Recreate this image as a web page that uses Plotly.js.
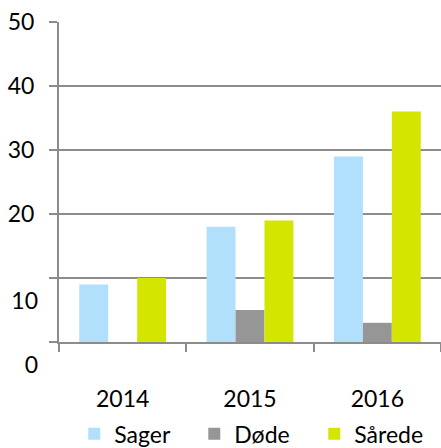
<!DOCTYPE html>
<html>
<head>
<meta charset="utf-8">
<script src="https://cdn.plot.ly/plotly-3.0.1.min.js"></script>
<style>html,body{margin:0;padding:0;background:#fff;}#chart{width:441px;height:448px;}</style>
</head>
<body>
<div id="chart"></div>
<script>
const years = ['2014', '2015', '2016'];
const sager = [9, 18, 29];
const doede = [null, 5, 3];
const saarede = [10, 19, 36];
const seriesNames = ['Sager', 'Døde', 'Sårede'];
const yTickVals = [0, 10, 20, 30, 40, 50];
const yTickTextUpper = ['', '', '20', '30', '40', '50'];
const yTickValsLower = [0, 10];
const yTickTextLower = ['0', '10'];

const colors = ['#B1E0FD', '#969696', '#D4E600'];
const gridColor = '#8C8C8C';
const font = {family: 'Lato, "Open Sans", sans-serif', size: 23, color: '#000'};

const traces = [sager, doede, saarede].map((vals, i) => ({
  type: 'bar', x: years, y: vals, name: seriesNames[i],
  marker: {color: colors[i], line: {width: 0}},
  hoverinfo: 'none'
}));
// carrier trace so the lower tick-label axis is drawn
traces.push({type: 'scatter', mode: 'none', x: years, y: [null, null, null], yaxis: 'y2',
  showlegend: false, hoverinfo: 'none'});

const layout = {
  width: 441, height: 448,
  margin: {l: 59, r: 0, t: 22, b: 106, autoexpand: false},
  paper_bgcolor: '#fff', plot_bgcolor: '#fff',
  font: font,
  barmode: 'group', bargap: 0.318, bargroupgap: 0,
  showlegend: true,
  legend: {orientation: 'h', x: 0.04, xanchor: 'left', y: -0.22, yanchor: 'top',
    entrywidth: 75, entrywidthmode: 'pixels', font: font, traceorder: 'normal',
    bgcolor: 'rgba(0,0,0,0)', itemclick: false},
  xaxis: {type: 'category', showline: true, linecolor: gridColor, linewidth: 2,
    ticks: 'outside', tickson: 'boundaries', ticklen: 8, tickwidth: 2, tickcolor: gridColor,
    showgrid: false, zeroline: false, ticklabelstandoff: 35, tickfont: font, fixedrange: true},
  yaxis: {range: [0, 50], tickvals: yTickVals, ticktext: yTickTextUpper,
    showline: true, linecolor: gridColor, linewidth: 2,
    showgrid: true, gridcolor: gridColor, gridwidth: 2, zeroline: false,
    ticks: 'outside', ticklen: 8, tickwidth: 2, tickcolor: gridColor,
    ticklabelstandoff: 10, tickfont: font, fixedrange: true},
  yaxis2: {overlaying: 'y', side: 'left', range: [0, 50], tickvals: yTickValsLower, ticktext: yTickTextLower,
    showline: false, showgrid: false, zeroline: false, ticks: '', ticklen: 0,
    ticklabelstandoff: 20, ticklabelshift: 23, tickfont: font, fixedrange: true}
};

Plotly.newPlot('chart', traces, layout, {displayModeBar: false, staticPlot: true});
</script>
</body>
</html>
